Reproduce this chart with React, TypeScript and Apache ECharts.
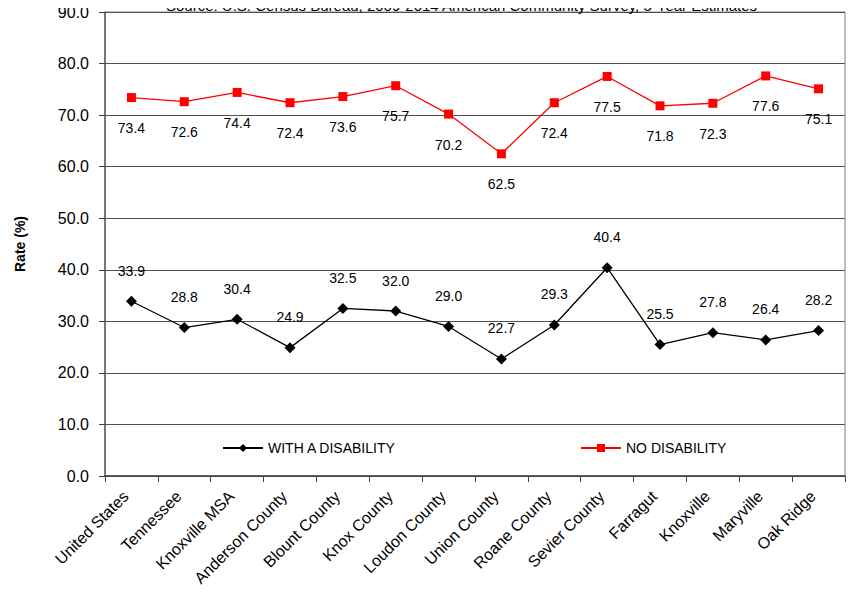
import React, { useEffect, useRef } from "react";
import * as echarts from "echarts";

const categories = [
  "United States", "Tennessee", "Knoxville MSA", "Anderson County", "Blount County",
  "Knox County", "Loudon County", "Union County", "Roane County", "Sevier County",
  "Farragut", "Knoxville", "Maryville", "Oak Ridge",
];
const withDisability = [33.9, 28.8, 30.4, 24.9, 32.5, 32.0, 29.0, 22.7, 29.3, 40.4, 25.5, 27.8, 26.4, 28.2];
const noDisability = [73.4, 72.6, 74.4, 72.4, 73.6, 75.7, 70.2, 62.5, 72.4, 77.5, 71.8, 72.3, 77.6, 75.1];
const sourceText = "Source: U.S. Census Bureau, 2009-2014 American Community Survey, 5-Year Estimates";

const FONT = "'Liberation Sans', Arial, sans-serif";

export default function App() {
  const ref = useRef<HTMLDivElement>(null);
  useEffect(() => {
    if (!ref.current) return;
    const chart = echarts.init(ref.current, null, { renderer: "svg" });
    chart.setOption({
      animation: false,
      backgroundColor: "#ffffff",
      textStyle: { fontFamily: FONT },
      title: {
        text: sourceText,
        left: 166,
        top: -2,
        padding: 0,
        textStyle: { fontFamily: FONT, fontSize: 15, fontWeight: "normal", color: "#000" },
      },
      grid: {
        left: 105, right: 13, top: 12, bottom: 123,
        show: true, borderColor: "#808080", borderWidth: 1,
      },
      legend: [
        {
          top: 441, left: 222, padding: 0, itemWidth: 40, itemHeight: 10, itemGap: 10,
          textStyle: { fontFamily: FONT, fontSize: 14, color: "#000" },
          data: ["WITH A DISABILITY"],
        },
        {
          top: 441, left: 580, padding: 0, itemWidth: 40, itemHeight: 10, itemGap: 10,
          textStyle: { fontFamily: FONT, fontSize: 14, color: "#000" },
          data: ["NO DISABILITY"],
        },
      ],
      xAxis: {
        type: "category",
        data: categories,
        boundaryGap: true,
        axisLine: { lineStyle: { color: "#404040", width: 1.5 } },
        axisTick: { show: true, interval: 0, length: 6, lineStyle: { color: "#404040" } },
        axisLabel: {
          interval: 0, rotate: 45, margin: 12, color: "#000",
          fontFamily: FONT, fontSize: 16, padding: [0, 8, 0, 0],
        },
      },
      yAxis: {
        type: "value",
        min: 0, max: 90, interval: 10,
        name: "Rate (%)",
        nameLocation: "middle",
        nameGap: 78,
        nameTextStyle: { fontFamily: FONT, fontSize: 14, fontWeight: "bold", color: "#000" },
        axisLine: { show: true, lineStyle: { color: "#606060", width: 1.5 } },
        axisTick: { show: true, length: 6, lineStyle: { color: "#404040" } },
        axisLabel: {
          color: "#000", fontFamily: FONT, fontSize: 16, margin: 16,
          formatter: (v: number) => v.toFixed(1),
        },
        splitLine: { show: true, lineStyle: { color: "#505050", width: 1 } },
      },
      series: [
        {
          name: "WITH A DISABILITY",
          type: "line",
          data: withDisability,
          color: "#000000",
          symbol: "diamond",
          symbolSize: 11,
          lineStyle: { color: "#000", width: 1.3 },
          itemStyle: { color: "#000" },
          label: {
            show: true, position: "top", distance: 18,
            color: "#000", fontFamily: FONT, fontSize: 14,
            formatter: (p: any) => Number(p.value).toFixed(1),
          },
        },
        {
          name: "NO DISABILITY",
          type: "line",
          data: noDisability,
          color: "#ff0000",
          symbol: "rect",
          symbolSize: 9,
          lineStyle: { color: "#ff0000", width: 1.3 },
          itemStyle: { color: "#ff0000" },
          label: {
            show: true, position: "bottom", distance: 19,
            color: "#000", fontFamily: FONT, fontSize: 14,
            formatter: (p: any) => Number(p.value).toFixed(1),
          },
        },
      ],
    });
    return () => chart.dispose();
  }, []);
  return <div ref={ref} style={{ width: 858, height: 599, margin: -8 }} />;
}
